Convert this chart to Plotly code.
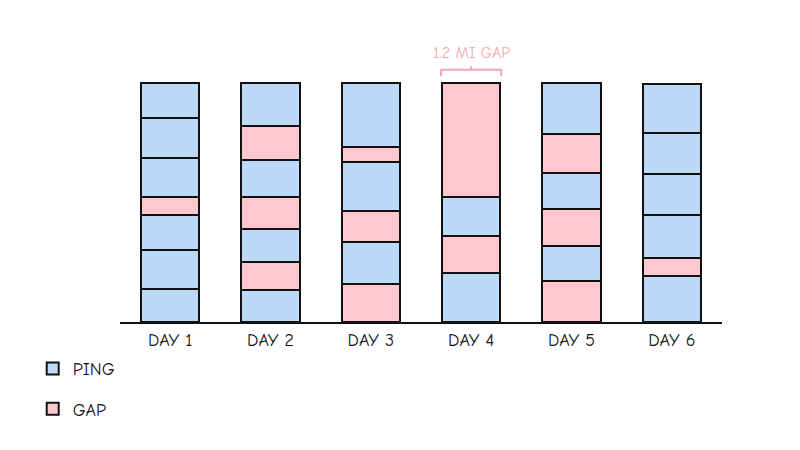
import plotly.graph_objects as go

days = ["DAY 1", "DAY 2", "DAY 3", "DAY 4", "DAY 5", "DAY 6"]
# segments from bottom to top: type ("P" ping / "G" gap), length in miles
seg_types = [
    ["P", "P", "P", "G", "P", "P", "P"],
    ["P", "G", "P", "G", "P", "G", "P"],
    ["G", "P", "G", "P", "G", "P"],
    ["P", "G", "P", "G"],
    ["G", "P", "G", "P", "G", "P"],
    ["P", "G", "P", "P", "P", "P"],
]
seg_values = [
    [0.35, 0.41, 0.37, 0.19, 0.41, 0.42, 0.37],
    [0.34, 0.29, 0.35, 0.34, 0.39, 0.36, 0.45],
    [0.40, 0.44, 0.33, 0.52, 0.16, 0.67],
    [0.52, 0.39, 0.41, 1.20],
    [0.43, 0.37, 0.39, 0.38, 0.41, 0.54],
    [0.49, 0.19, 0.45, 0.43, 0.43, 0.52],
]
BLUE = "#bcd9f8"
PINK = "#ffc8ce"
FONT = "Comic Neue, Lato, sans-serif"

fig = go.Figure()
nmax = max(len(s) for s in seg_values)
for k in range(nmax):
    ys, cols = [], []
    for t, v in zip(seg_types, seg_values):
        if k < len(v):
            ys.append(v[k]); cols.append(BLUE if t[k] == "P" else PINK)
        else:
            ys.append(0); cols.append("rgba(0,0,0,0)")
    fig.add_bar(x=days, y=ys, marker=dict(color=cols, line=dict(color="#111", width=2)),
                showlegend=False, hoverinfo="skip")
for name, c in [("PING", BLUE), ("GAP", PINK)]:
    fig.add_bar(x=[days[0]], y=[0], name=name, legendgroup=name,
                marker=dict(color=c, line=dict(color="#111", width=2)))

totals = [sum(v) for v in seg_values]
top = max(totals)
best = max(((v, i) for i, (t, s) in enumerate(zip(seg_types, seg_values))
            for tt, v in zip(t, s) if tt == "G"))
gv, gi = best
by = totals[gi] + 0.14
fig.add_shape(type="path", xref="x", yref="y",
              path=f"M {gi-0.3},{by-0.07} L {gi-0.3},{by} L {gi+0.3},{by} L {gi+0.3},{by-0.07} M {gi},{by} L {gi},{by+0.04}",
              line=dict(color="#f4a7ae", width=2))
fig.add_annotation(x=gi, y=by, yref="y", text=f"{gv:.1f} MI GAP", showarrow=False,
                   yshift=17, font=dict(color="#f4a7ae", size=16, family=FONT))

fig.update_layout(
    width=800, height=450, barmode="stack", bargap=0.42,
    plot_bgcolor="white", paper_bgcolor="white",
    margin=dict(l=112, r=86, t=32, b=136),
    font=dict(family=FONT, color="#111"),
    xaxis=dict(showline=True, linecolor="#111", linewidth=2, ticks="", tickfont=dict(size=18),
               showgrid=False, fixedrange=True),
    yaxis=dict(visible=False, range=[0, top * 282 / 239], showgrid=False),
    legend=dict(x=-0.145, y=-0.1, xanchor="left", yanchor="top", font=dict(size=18),
                traceorder="grouped", itemsizing="constant", tracegroupgap=14),
)
fig.write_html("out.html")
